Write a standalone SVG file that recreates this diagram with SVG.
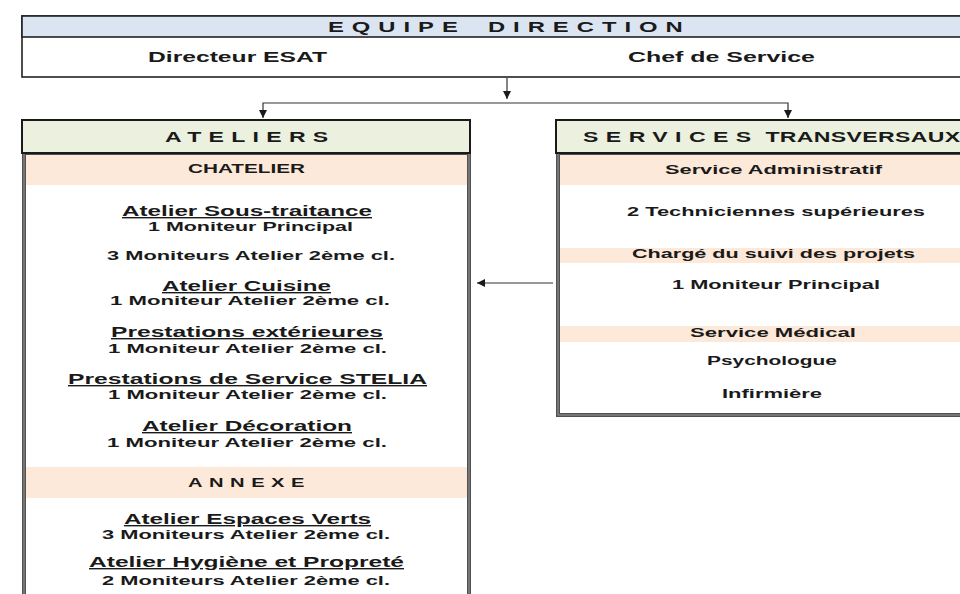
<svg xmlns="http://www.w3.org/2000/svg" width="960" height="594" viewBox="0 0 960 594">
<defs>
<style>
text{font-family:"Liberation Sans",Arial,sans-serif;font-weight:bold;fill:#1a1a1a}
.t15{font-size:15px}
.t14{font-size:14px}
.t13{font-size:13px}
.t12{font-size:12px}
.u{text-decoration:underline}
.hdrBand{stroke:#1a1a1a;stroke-width:2}
.body{fill:#ffffff;stroke:#505050;stroke-width:4}
.bodyIn{fill:none;stroke:#9a9a9a;stroke-width:1}
.peach{fill:#FDE9D9}
.green{fill:#EBF1DE}
.conn{fill:none;stroke:#333333;stroke-width:1.2}
</style>
<marker id="arr" markerUnits="userSpaceOnUse" markerWidth="9" markerHeight="9" refX="8" refY="4" orient="auto">
<path d="M0,0 L8,4 L0,8 z" fill="#1a1a1a"/>
</marker>
</defs>
<rect width="960" height="594" fill="#ffffff"/>

<g id="equipe-direction">
<rect x="22" y="16" width="990" height="61" fill="#ffffff" stroke="#222222" stroke-width="1.6"/>
<rect x="22" y="16" width="990" height="21" fill="#DBE5F1" stroke="#222222" stroke-width="1.6"/>
<text class="t14" transform="translate(328,32) scale(1.7,1)" letter-spacing="4.7">EQUIPE <tspan dx="4.4">DIRECTION</tspan></text>
<text class="t15" x="148" y="62" textLength="179" lengthAdjust="spacingAndGlyphs">Directeur ESAT</text>
<text class="t15" x="628" y="62" textLength="187" lengthAdjust="spacingAndGlyphs">Chef de Service</text>
</g>

<g id="ateliers">
<rect class="body" x="24" y="153" width="445" height="460"/>
<rect class="bodyIn" x="24" y="153" width="445" height="460"/>
<rect class="peach" x="26" y="155" width="441" height="30"/>
<rect class="peach" x="26" y="467" width="441" height="31"/>
<rect class="green hdrBand" x="22" y="120" width="448" height="33"/>
<text class="t14" transform="translate(165,142) scale(1.65,1)" letter-spacing="4.4">ATELIERS</text>
<text class="t13" x="188" y="173" textLength="117" lengthAdjust="spacingAndGlyphs">CHATELIER</text>
<text class="t14 u" x="122" y="216" textLength="250" lengthAdjust="spacingAndGlyphs">Atelier Sous-traitance</text>
<text class="t12" x="148" y="231" textLength="205" lengthAdjust="spacingAndGlyphs">1 Moniteur Principal</text>
<text class="t12" x="107" y="260" textLength="288" lengthAdjust="spacingAndGlyphs">3 Moniteurs Atelier 2ème cl.</text>
<text class="t14 u" x="162" y="291" textLength="169" lengthAdjust="spacingAndGlyphs">Atelier Cuisine</text>
<text class="t12" x="110" y="305" textLength="280" lengthAdjust="spacingAndGlyphs">1 Moniteur Atelier 2ème cl.</text>
<text class="t14 u" x="111" y="337" textLength="272" lengthAdjust="spacingAndGlyphs">Prestations extérieures</text>
<text class="t12" x="108" y="353" textLength="279" lengthAdjust="spacingAndGlyphs">1 Moniteur Atelier 2ème cl.</text>
<text class="t14 u" x="68" y="384" textLength="359" lengthAdjust="spacingAndGlyphs">Prestations de Service STELIA</text>
<text class="t12" x="108" y="399" textLength="279" lengthAdjust="spacingAndGlyphs">1 Moniteur Atelier 2ème cl.</text>
<text class="t14 u" x="142" y="431" textLength="210" lengthAdjust="spacingAndGlyphs">Atelier Décoration</text>
<text class="t12" x="107" y="447" textLength="280" lengthAdjust="spacingAndGlyphs">1 Moniteur Atelier 2ème cl.</text>
<text class="t13" transform="translate(188,487) scale(1.55,1)" letter-spacing="4.2">ANNEXE</text>
<text class="t14 u" x="124" y="524" textLength="247" lengthAdjust="spacingAndGlyphs">Atelier Espaces Verts</text>
<text class="t12" x="102" y="539" textLength="288" lengthAdjust="spacingAndGlyphs">3 Moniteurs Atelier 2ème cl.</text>
<text class="t14 u" x="89" y="567" textLength="315" lengthAdjust="spacingAndGlyphs">Atelier Hygiène et Propreté</text>
<text class="t12" x="102" y="585" textLength="288" lengthAdjust="spacingAndGlyphs">2 Moniteurs Atelier 2ème cl.</text>
</g>

<g id="services-transversaux">
<rect class="body" x="558" y="153" width="450" height="262"/>
<rect class="bodyIn" x="558" y="153" width="450" height="262"/>
<rect class="peach" x="560" y="155" width="446" height="30"/>
<rect class="peach" x="560" y="248" width="446" height="15"/>
<rect class="peach" x="560" y="326" width="446" height="16"/>
<rect class="green hdrBand" x="556" y="120" width="455" height="33"/>
<text class="t14" transform="translate(583,142) scale(1.65,1)"><tspan letter-spacing="4.5">SERVICES</tspan><tspan letter-spacing="0.2"> TRANSVERSAUX</tspan></text>
<text class="t13" x="665" y="174" textLength="217" lengthAdjust="spacingAndGlyphs">Service Administratif</text>
<text class="t13" x="627" y="216" textLength="298" lengthAdjust="spacingAndGlyphs">2 Techniciennes supérieures</text>
<text class="t13" x="632" y="258" textLength="283" lengthAdjust="spacingAndGlyphs">Chargé du suivi des projets</text>
<text class="t13" x="672" y="289" textLength="208" lengthAdjust="spacingAndGlyphs">1 Moniteur Principal</text>
<text class="t13" x="690" y="337" textLength="166" lengthAdjust="spacingAndGlyphs">Service Médical</text>
<text class="t13" x="707" y="365" textLength="130" lengthAdjust="spacingAndGlyphs">Psychologue</text>
<text class="t13" x="722" y="398" textLength="100" lengthAdjust="spacingAndGlyphs">Infirmière</text>
</g>

<g id="connectors">
<path class="conn" d="M507,78 V99" marker-end="url(#arr)"/>
<path class="conn" d="M507,103 H263 V118" marker-end="url(#arr)"/>
<path class="conn" d="M507,103 H788 V118" marker-end="url(#arr)"/>
<path class="conn" d="M553,283 H477" marker-end="url(#arr)"/>
</g>
</svg>
